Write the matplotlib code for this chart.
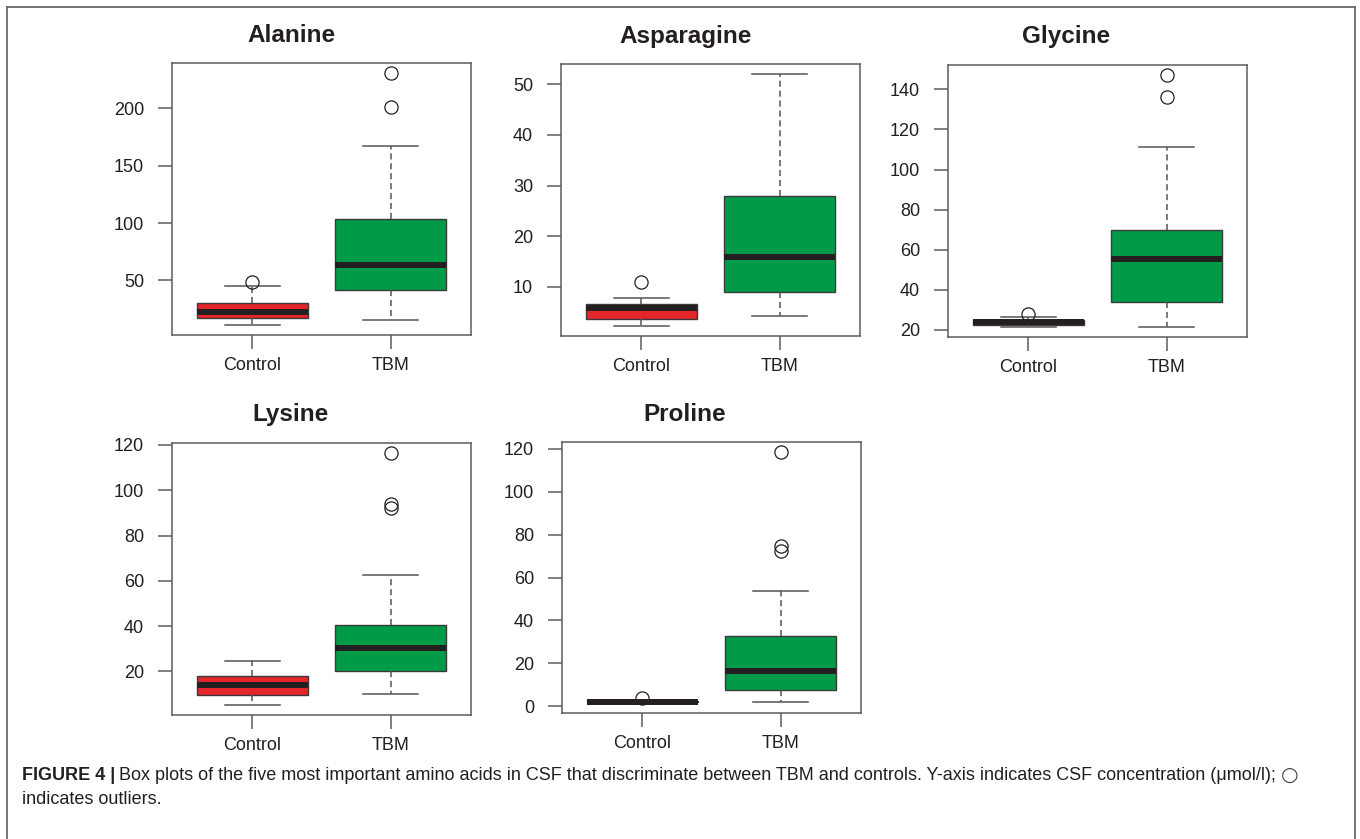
import matplotlib
matplotlib.use("Agg")
import matplotlib.pyplot as plt
from matplotlib.lines import Line2D

W, H = 1360, 839

names = ["Alanine", "Asparagine", "Glycine", "Lysine", "Proline"]
groups = ["Control", "TBM"]

# lower whisker, Q1, median, Q3, upper whisker
alanine_control = [11.3, 17.3, 22.5, 30.4, 45.5]
alanine_tbm = [15.7, 41.9, 63.7, 103.5, 167.0]
asparagine_control = [2.3, 3.6, 5.9, 6.7, 7.9]
asparagine_tbm = [4.3, 9.0, 16.0, 27.9, 52.0]
glycine_control = [21.5, 22.5, 23.8, 25.0, 26.5]
glycine_tbm = [21.6, 33.9, 55.4, 69.9, 111.0]
lysine_control = [5.2, 9.8, 13.8, 17.9, 24.4]
lysine_tbm = [10.2, 20.4, 30.2, 40.4, 62.7]
proline_control = [1.5, 1.8, 2.1, 2.5, 2.8]
proline_tbm = [1.9, 7.5, 16.4, 32.7, 53.8]

# outliers (control, TBM)
alanine_out = [[49.0], [201.0, 230.5]]
asparagine_out = [[10.9], []]
glycine_out = [[28.0], [136.3, 147.1]]
lysine_out = [[], [92.0, 93.8, 116.4]]
proline_out = [[3.7], [72.4, 74.7, 118.5]]

yticks = [
    [50, 100, 150, 200],
    [10, 20, 30, 40, 50],
    [20, 40, 60, 80, 100, 120, 140],
    [20, 40, 60, 80, 100, 120],
    [0, 20, 40, 60, 80, 100, 120],
]

controls = [alanine_control, asparagine_control, glycine_control, lysine_control, proline_control]
tbms = [alanine_tbm, asparagine_tbm, glycine_tbm, lysine_tbm, proline_tbm]
outliers = [alanine_out, asparagine_out, glycine_out, lysine_out, proline_out]

# axes boxes in pixels: left, top, width, height
boxes = [(172, 63, 299, 272), (561, 64, 299, 272), (948, 65, 299, 272),
         (172, 443, 299, 272), (562, 442, 299, 271)]
title_pos = [(291, 36), (686, 36), (1066, 37), (290, 415), (685, 415)]

RED = "#e4262a"
GREEN = "#009a48"
DARK = "#231f20"
GREY = "#5c5c5c"

plt.rcParams["font.family"] = ["Liberation Sans", "DejaVu Sans"]

fig = plt.figure(figsize=(W / 100, H / 100), dpi=100)

for name, ctrl, tbm, outs, ticks, box, tp in zip(names, controls, tbms, outliers, yticks, boxes, title_pos):
    l, t, w, h = box
    ax = fig.add_axes([l / W, 1 - (t + h) / H, w / W, h / H])
    stats = []
    for g, s, o in zip(groups, [ctrl, tbm], outs):
        stats.append(dict(label=g, whislo=s[0], q1=s[1], med=s[2], q3=s[3], whishi=s[4], fliers=o))
    art = ax.bxp(stats, positions=[1, 2], widths=0.8, capwidths=0.4, patch_artist=True,
                 boxprops=dict(edgecolor="#3a3a3a", linewidth=1.0),
                 whiskerprops=dict(color="#555555", linewidth=1.1, linestyle=(0, (4, 2.5))),
                 capprops=dict(color="#555555", linewidth=1.1),
                 medianprops=dict(color=DARK, linewidth=4.3, solid_capstyle="butt"),
                 flierprops=dict(marker="o", markersize=9.5, markerfacecolor="none",
                                 markeredgecolor=DARK, markeredgewidth=0.9))
    for patch, c in zip(art["boxes"], [RED, GREEN]):
        patch.set_facecolor(c)

    allv = ctrl + tbm + outs[0] + outs[1]
    lo, hi = min(allv), max(allv)
    pad = 0.04 * (hi - lo)
    ax.set_ylim(lo - pad, hi + pad)
    ax.set_xlim(0.42, 2.58)
    ax.set_yticks(ticks)

    for sp in ax.spines.values():
        sp.set_color(GREY)
        sp.set_linewidth(1.1)
    ax.tick_params(direction="out", length=10, width=1.1, color=GREY,
                   labelsize=13, labelcolor=DARK)
    ax.tick_params(axis="y", pad=10)
    ax.tick_params(axis="x", pad=6)

    fig.text(tp[0] / W, 1 - tp[1] / H, name, ha="center", va="center",
             fontsize=17.5, fontweight="bold", color=DARK)

# outer frame
frame_kw = dict(color="#6a6a6a", linewidth=1.3, transform=fig.transFigure)
fig.add_artist(Line2D([7 / W, 7 / W], [0, 1 - 7 / H], **frame_kw))
fig.add_artist(Line2D([7 / W, 1355 / W], [1 - 7 / H, 1 - 7 / H], **frame_kw))
fig.add_artist(Line2D([1355 / W, 1355 / W], [0, 1 - 7 / H], **frame_kw))

# caption
bold = fig.text(22 / W, 1 - 775 / H, "FIGURE 4 |", ha="left", va="center",
                fontsize=13, fontweight="bold", color=DARK)
fig.canvas.draw()
bb = bold.get_window_extent()
body = fig.text((bb.x1 + 4) / W, 1 - 775 / H,
                "Box plots of the five most important amino acids in CSF that discriminate between TBM and "
                "controls. Y-axis indicates CSF concentration (\u03bcmol/l);",
                ha="left", va="center", fontsize=13, color=DARK)
fig.canvas.draw()
bb2 = body.get_window_extent()
fig.text((bb2.x1 + 5) / W, 1 - 775 / H, "\u25cb", ha="left", va="center",
         fontsize=14.5, family=["DejaVu Sans"], color="#444444")
fig.text(22 / W, 1 - 799 / H, "indicates outliers.", ha="left", va="center",
         fontsize=13, color=DARK)

fig.savefig("out.png", dpi=100)
